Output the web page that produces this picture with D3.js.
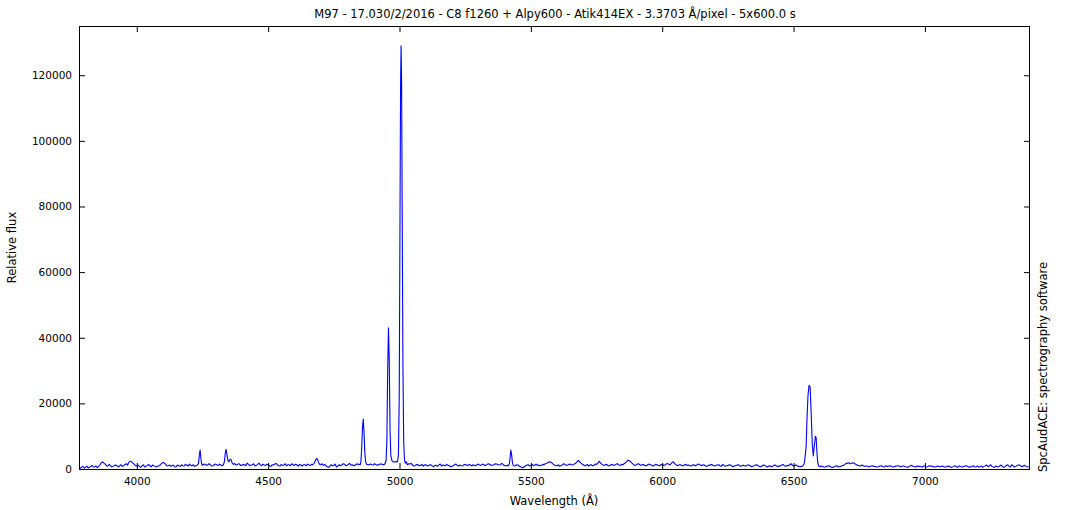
<!DOCTYPE html>
<html>
<head>
<meta charset="utf-8">
<script src="https://cdn.jsdelivr.net/npm/d3@7"></script>
<style>
  html, body { margin: 0; padding: 0; background: #ffffff; }
  svg { display: block; }
  text { font-family: "DejaVu Sans", Verdana, sans-serif; fill: #000; }
</style>
</head>
<body>
<svg id="chart" width="1070" height="510"></svg>
<script>
// ---------- data ----------
const titleText = "M97 - 17.030/2/2016 - C8 f1260 + Alpy600 - Atik414EX - 3.3703 Å/pixel - 5x600.0 s";
const xLabel = "Wavelength (Å)";
const yLabel = "Relative flux";
const sideLabel = "SpcAudACE: spectrography software";

const xDomain = [3780, 7400];
const yDomain = [0, 135000];
const xTicks = [4000, 4500, 5000, 5500, 6000, 6500, 7000];
const yTicks = [0, 20000, 40000, 60000, 80000, 100000, 120000];

// continuum samples, every 5 Å from 3780 Å (one row = 100 Å)
const continuumStart = 3780;
const continuumStep = 5;
const continuumFlux = [
  400,200, 600,800, 300,500, 900,300, 500,800, 1100,600, 700,900, 400,800, 1300,1900, 2200,1800,
  1500,900, 900,1400, 1000,600, 800,1100, 1200,900, 700,1000, 1300,800, 1000,1400, 1600,1200, 2100,2400,
  2200,1800, 1500,1000, 900,1200, 800,500, 1000,1300, 600,800, 1100,1400, 900,700, 1200,1000, 800,600,
  900,1000, 1300,1700, 2000,1800, 1400,900, 1000,1200, 800,1100, 1100,600, 700,1200, 1000,800, 1300,1000,
  900,1400, 1200,900, 1500,1100, 1000,1300, 800,1000, 1200,900, 1200,1200, 1000,1500, 1400,1100, 1300,1600,
  1300,900, 1000,1300, 1500,1200, 1100,1500, 1200,1000, 1300,1300, 1300,1300, 1400,1400, 1500,1500, 1300,1300,
  1200,1500, 1600,1100, 1100,1400, 1300,1000, 1800,1400, 1000,1200, 1300,1600, 900,1100, 1400,1800, 1200,1000,
  1500,1200, 1100,1400, 1300,1000, 800,1300, 1200,1500, 1700,1300, 1000,900, 1400,1100, 1200,1600, 1000,1300,
  1300,1000, 1600,1300, 1100,1500, 1200,900, 1400,1200, 900,1300, 1300,1000, 1500,1200, 1100,1400, 1300,1300,
  1300,1300, 2900,2900, 1300,1600, 1100,1400, 1000,700, 500,900, 1300,1000, 1100,1500, 600,800, 1300,1000,
  1200,1600, 1500,1100, 1000,1400, 1700,1200, 1300,1000, 1100,1500, 1500,1300, 1300,1300, 1200,1200, 1300,1300,
  1300,1100, 1500,1300, 1200,1600, 1400,1100, 1300,1500, 1500,1200, 1400,1400, 1500,1500, 1600,1600, 2000,2000,
  2000,2000, 2000,2000, 2000,2000, 2000,2000, 2000,2000, 2000,2000, 1500,1700, 1200,900, 1000,1400, 1300,1000,
  1100,1400, 900,1200, 1300,1000, 1000,1300, 1200,900, 700,1100, 1100,800, 1300,1500, 900,1200, 1100,1000,
  1400,1100, 1000,700, 800,1100, 1300,1500, 1100,900, 1200,1000, 900,1300, 1400,1200, 1000,1400, 1200,900,
  1300,1100, 1000,1300, 1500,1200, 1100,1400, 1400,1000, 1200,1500, 1600,1300, 1100,1200, 1300,1600, 1500,1300,
  1200,1400, 1700,1300, 1000,1000, 1100,1100, 1000,1000, 1000,1000, 900,1300, 1200,900, 700,500, 400,700,
  1000,1200, 1300,900, 1100,1400, 1000,1200, 1500,1100, 1200,1000, 1100,1400, 1300,1600, 1700,2000, 2200,2100,
  1900,1500, 1200,1000, 1000,1300, 800,1100, 1300,1600, 1400,1100, 1200,1400, 1500,1200, 1300,1500, 1700,2100,
  2600,2300, 1800,1500, 1300,1000, 1100,1400, 900,1200, 1300,1000, 1100,1500, 1400,1800, 2300,1900, 1500,1200,
  1100,1400, 1300,1000, 1000,1300, 1400,1100, 1200,1500, 1600,1200, 1100,1400, 1300,1600, 1900,2300, 2700,2500,
  2200,1800, 1400,1100, 1200,1500, 1600,1300, 1100,1400, 1300,1000, 1000,1300, 1500,1200, 1200,900, 1100,1400,
  1300,1100, 1000,1300, 1400,1100, 1200,1500, 1700,1400, 1300,1800, 2200,1900, 1400,1100, 1100,1300, 1300,1000,
  1000,1300, 1400,1100, 1200,1000, 900,1200, 1300,1000, 1100,1400, 1500,1200, 1000,1300, 1200,900, 800,1100,
  1100,1400, 1300,1000, 900,1100, 1200,1300, 1000,800, 1400,1100, 800,1000, 1100,1300, 1200,900, 700,1000,
  1000,1200, 1300,1000, 800,1100, 1100,900, 900,1200, 1200,1000, 700,900, 1000,1200, 1300,1000, 800,700,
  900,1200, 1100,800, 600,900, 1000,700, 800,1100, 1200,900, 700,1000, 900,1200, 1400,1000, 800,1100,
  1000,1300, 1600,1200, 900,1100, 1200,900, 800,700, 800,800, 1000,1000, 1000,1000, 1000,1000, 1000,1000,
  1000,1000, 1000,1000, 700,900, 800,600, 600,800, 900,1000, 700,500, 500,700, 900,1000, 600,700,
  800,1000, 1100,1400, 1700,1800, 1900,1600, 1700,1900, 1800,1500, 1300,1100, 1000,900, 1200,1000, 800,900,
  900,700, 700,900, 1000,800, 800,600, 600,800, 900,1000, 700,600, 1000,800, 800,1000, 900,700,
  600,800, 800,1000, 1000,700, 700,900, 900,700, 600,500, 800,1000, 1100,800, 700,600, 900,800,
  800,700, 600,900, 900,600, 700,900, 1000,800, 800,600, 600,800, 900,700, 700,900, 800,600,
  600,800, 900,700, 500,600, 800,1000, 700,500, 1000,800, 600,700, 800,1000, 900,700, 500,700,
  800,1000, 600,700, 900,600, 700,900, 500,800, 1000,1200, 700,900, 1300,800, 600,500, 900,700,
  700,900, 1200,800, 500,700, 1100,1300, 800,600, 1300,1000, 600,800, 1000,1200, 1200,900, 700,1000,
  1100,800, 600,700, 900
];

// emission-line profiles (finer sampling)
const lineWavelength = [
  [4230, 4235, 4238, 4241, 4244, 4247, 4250],
  [4330, 4334, 4337, 4340, 4343, 4347, 4351, 4355, 4359, 4363, 4368, 4372, 4376],
  [4670, 4675, 4680, 4684, 4688, 4692, 4697],
  [4845, 4850, 4853, 4856, 4859, 4862, 4865, 4868, 4871, 4875, 4885],
  [4935, 4940, 4945, 4949, 4952, 4955, 4958, 4961, 4964, 4967, 4971, 4975, 4980, 4985,
   4990, 4993, 4996, 4999, 5002, 5004, 5006, 5008, 5010, 5013, 5016, 5019, 5022, 5026, 5030, 5035],
  [5414, 5418, 5421, 5424, 5427, 5430, 5434],
  [6530, 6536, 6540, 6542, 6545, 6548, 6551, 6555, 6559, 6563, 6567, 6571, 6575, 6579,
   6583, 6586, 6589, 6592, 6595, 6600]
];
const lineFlux = [
  [1200, 1700, 4200, 5800, 3200, 1500, 1100],
  [1300, 2500, 5000, 6000, 4500, 2500, 2200, 3000, 2800, 1800, 1400, 1700, 1200],
  [1300, 1800, 2600, 3200, 2900, 2000, 1300],
  [1400, 1300, 2200, 6000, 12500, 15200, 11000, 5000, 2200, 1400, 1300],
  [1400, 1300, 1600, 2600, 9000, 30000, 43000, 33000, 12000, 4000, 2600, 2200, 2100, 2300,
   2100, 2400, 4500, 22000, 78000, 116000, 129000, 118000, 82000, 32000, 8000, 2800, 1800, 2200, 1300, 1600],
  [1000, 1500, 3500, 5800, 4200, 1800, 1000],
  [800, 1000, 1500, 2500, 4500, 7000, 15000, 22500, 25500, 25000, 17000, 8000, 4000, 7000,
   10000, 9500, 5000, 2000, 1000, 700]
];

// ---------- merge samples ----------
const ranges = lineWavelength.map(w => [d3.min(w), d3.max(w)]);
const points = [];
continuumFlux.forEach((f, i) => {
  const w = continuumStart + i * continuumStep;
  if (!ranges.some(r => w >= r[0] && w <= r[1])) points.push({ w, f });
});
lineWavelength.forEach((ws, k) => ws.forEach((w, j) => points.push({ w, f: lineFlux[k][j] })));
points.sort((a, b) => a.w - b.w);

// ---------- layout ----------
const svg = d3.select("#chart");
const L = 79, R = 1030, T = 26, B = 469;

const x = d3.scaleLinear().domain(xDomain).range([L, R]);
const y = d3.scaleLinear().domain(yDomain).range([B, T]);

svg.append("defs").append("clipPath").attr("id", "clip")
  .append("rect").attr("x", L).attr("y", T).attr("width", R - L).attr("height", B - T);

svg.append("path")
  .datum(points)
  .attr("clip-path", "url(#clip)")
  .attr("fill", "none")
  .attr("stroke", "#0000ff")
  .attr("stroke-width", 1.1)
  .attr("stroke-linejoin", "round")
  .attr("d", d3.line().x(d => x(d.w)).y(d => y(d.f)));

const tickFont = "10.5px";
const labelFont = "11.5px";

const gx = svg.append("g").attr("transform", `translate(0,${B})`)
  .call(d3.axisBottom(x).tickValues(xTicks).tickSizeInner(-6).tickSizeOuter(0).tickPadding(9).tickFormat(d3.format("d")));
const gxTop = svg.append("g").attr("transform", `translate(0,${T})`)
  .call(d3.axisTop(x).tickValues(xTicks).tickSizeInner(-6).tickSizeOuter(0).tickFormat(""));
const gy = svg.append("g").attr("transform", `translate(${L},0)`)
  .call(d3.axisLeft(y).tickValues(yTicks).tickSizeInner(-6).tickSizeOuter(0).tickPadding(7).tickFormat(d3.format("d")));
const gyR = svg.append("g").attr("transform", `translate(${R},0)`)
  .call(d3.axisRight(y).tickValues(yTicks).tickSizeInner(-6).tickSizeOuter(0).tickFormat(""));

[gx, gxTop, gy, gyR].forEach(g => {
  g.select(".domain").remove();
  g.selectAll(".tick line").attr("stroke", "#000");
  g.selectAll("text").attr("font-size", tickFont).attr("font-family", "DejaVu Sans").attr("fill", "#000");
});

svg.append("rect")
  .attr("x", L + 0.5).attr("y", T + 0.5)
  .attr("width", R - L - 1).attr("height", B - T)
  .attr("fill", "none").attr("stroke", "#000").attr("stroke-width", 1);

svg.append("text").attr("x", 555).attr("y", 18).attr("text-anchor", "middle")
  .attr("font-size", labelFont).text(titleText);

svg.append("text").attr("x", 554).attr("y", 505).attr("text-anchor", "middle")
  .attr("font-size", labelFont).text(xLabel);

svg.append("text").attr("transform", `translate(16,${(T + B) / 2}) rotate(-90)`)
  .attr("text-anchor", "middle").attr("font-size", labelFont).text(yLabel);

svg.append("text").attr("transform", `translate(1047,472) rotate(-90)`)
  .attr("text-anchor", "start").attr("font-size", labelFont).text(sideLabel);
</script>
</body>
</html>
